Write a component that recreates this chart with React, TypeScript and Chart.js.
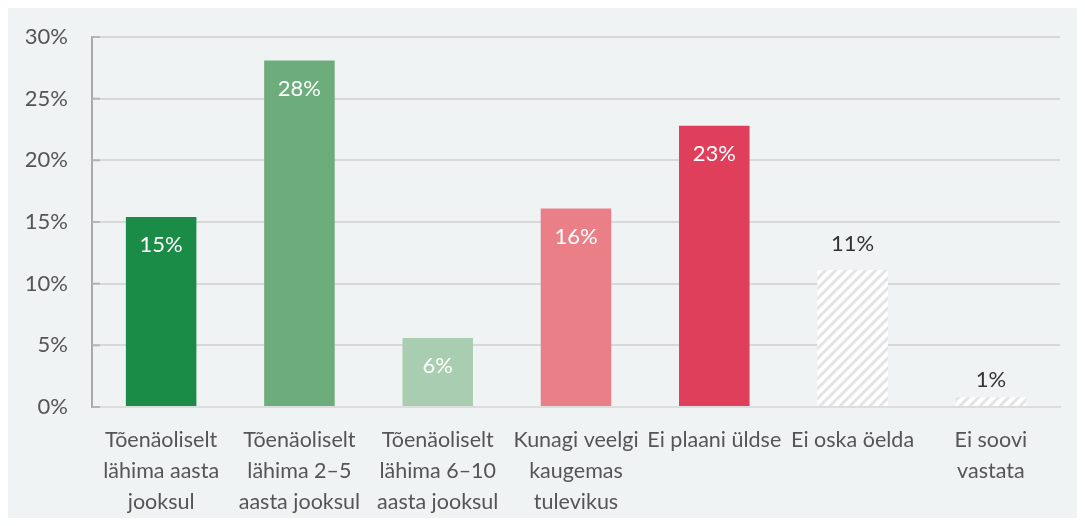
import React, { useEffect, useRef } from "react";
import { Chart, registerables } from "chart.js";

Chart.register(...registerables);

const categories: string[][] = [
  ["Tõenäoliselt", "lähima aasta", "jooksul"],
  ["Tõenäoliselt", "lähima 2–5", "aasta jooksul"],
  ["Tõenäoliselt", "lähima 6–10", "aasta jooksul"],
  ["Kunagi veelgi", "kaugemas", "tulevikus"],
  ["Ei plaani üldse"],
  ["Ei oska öelda"],
  ["Ei soovi", "vastata"],
];
const values: number[] = [15.4, 28.1, 5.6, 16.1, 22.8, 11.1, 0.8];
const barColors: (string | null)[] = ["#1b8c48", "#6cad7b", "#a9cdb0", "#ea7f88", "#df3f5a", null, null];
const yTicks: number[] = [0, 5, 10, 15, 20, 25, 30];

const FONT = "Lato, 'Open Sans', sans-serif";

function makeHatch(): CanvasPattern | string {
  const c = document.createElement("canvas");
  c.width = 10;
  c.height = 10;
  const ctx = c.getContext("2d");
  if (!ctx) return "#eee";
  ctx.fillStyle = "#ffffff";
  ctx.fillRect(0, 0, 10, 10);
  ctx.strokeStyle = "#e4e4e4";
  ctx.lineWidth = 3;
  ctx.beginPath();
  ctx.moveTo(-2, 12);
  ctx.lineTo(12, -2);
  ctx.moveTo(-7, 7);
  ctx.lineTo(7, -7);
  ctx.moveTo(3, 17);
  ctx.lineTo(17, 3);
  ctx.stroke();
  return ctx.createPattern(c, "repeat") || "#eee";
}

const labelPlugin = {
  id: "barLabels",
  afterDatasetsDraw(chart: any) {
    const ctx = chart.ctx;
    const meta = chart.getDatasetMeta(0);
    ctx.save();
    ctx.font = `22px ${FONT}`;
    ctx.textAlign = "center";
    ctx.textBaseline = "middle";
    meta.data.forEach((bar: any, i: number) => {
      const v = values[i];
      const txt = Math.round(v) + "%";
      if (barColors[i]) {
        ctx.fillStyle = "#ffffff";
        ctx.fillText(txt, bar.x, bar.y + 28);
      } else {
        ctx.fillStyle = "#333333";
        const h = bar.base - bar.y;
        const anchor = h < 15 ? bar.base : bar.y;
        ctx.fillText(txt, bar.x, anchor - 26);
      }
    });
    // small tick marks inside the axis
    const y = chart.scales.y;
    const left = chart.chartArea.left;
    ctx.strokeStyle = "#b5b5b5";
    ctx.lineWidth = 2;
    yTicks.forEach((t) => {
      const py = y.getPixelForValue(t);
      ctx.beginPath();
      ctx.moveTo(left, py);
      ctx.lineTo(left + 8, py);
      ctx.stroke();
    });
    ctx.restore();
  },
};

export default function App() {
  const ref = useRef<HTMLCanvasElement | null>(null);
  useEffect(() => {
    if (!ref.current) return;
    const hatch = makeHatch();
    const chart = new Chart(ref.current, {
      type: "bar",
      data: {
        labels: categories,
        datasets: [
          {
            data: values,
            backgroundColor: barColors.map((c) => c || hatch) as any,
            borderWidth: 0,
            barPercentage: 0.51,
            categoryPercentage: 1,
          },
        ],
      },
      options: {
        animation: false,
        responsive: true,
        maintainAspectRatio: false,
        layout: { padding: { left: 0, right: 17, top: 29, bottom: 0 } },
        plugins: { legend: { display: false }, tooltip: { enabled: false } },
        scales: {
          x: {
            grid: { display: false, drawTicks: false },
            border: { color: "#dddddd", width: 2 },
            afterFit: (axis: any) => {
              axis.height = 111;
            },
            ticks: {
              color: "#555555",
              font: { family: FONT, size: 21.5, lineHeight: 1.44 },
              padding: 18,
              maxRotation: 0,
              autoSkip: false,
            },
          },
          y: {
            min: 0,
            max: 30,
            afterBuildTicks: (axis: any) => {
              axis.ticks = yTicks.map((v) => ({ value: v }));
            },
            afterFit: (axis: any) => {
              axis.width = 84;
              axis.paddingTop = 0;
              axis.paddingBottom = 0;
            },
            grid: { color: "#d8d8d8", lineWidth: 2, drawTicks: false },
            border: { color: "#aaaaaa", width: 2 },
            ticks: {
              color: "#555555",
              font: { family: FONT, size: 22 },
              padding: 24,
              callback: (v: any) => v + "%",
            },
          },
        },
      },
      plugins: [labelPlugin],
    });
    return () => chart.destroy();
  }, []);
  return (
    <div style={{ background: "#f0f3f4", width: 1069, height: 510 }}>
      <canvas ref={ref} />
    </div>
  );
}
